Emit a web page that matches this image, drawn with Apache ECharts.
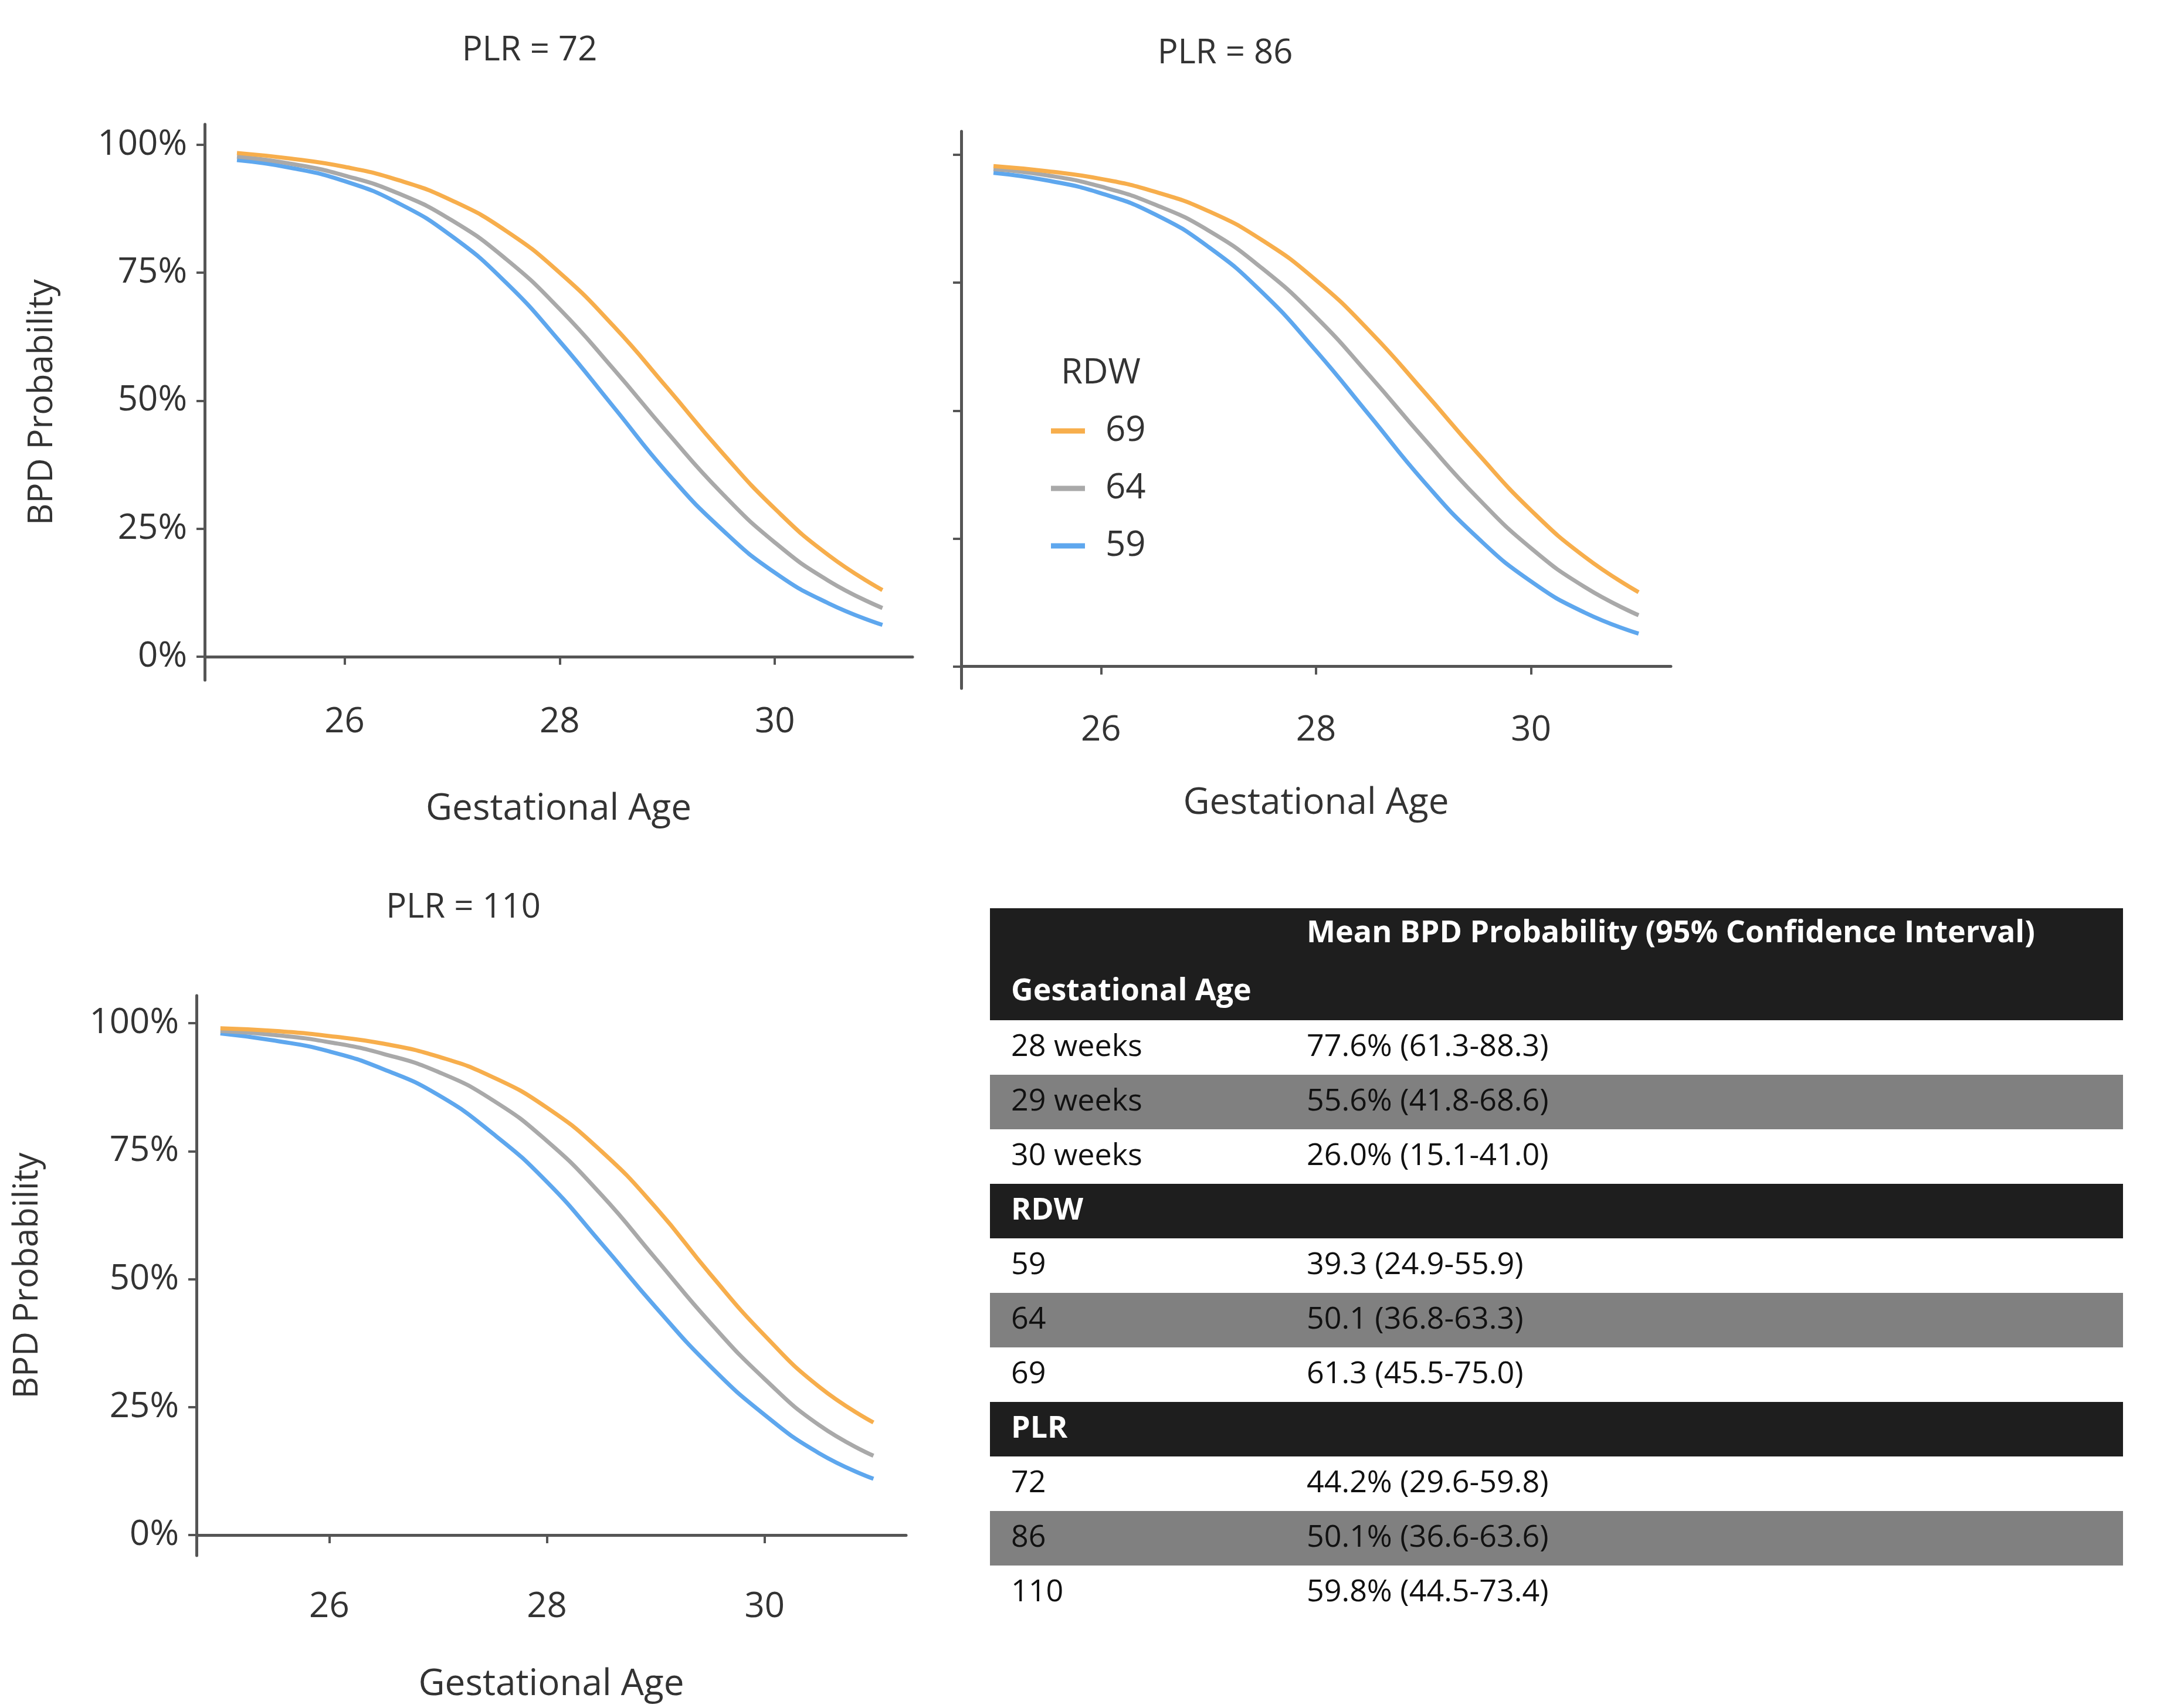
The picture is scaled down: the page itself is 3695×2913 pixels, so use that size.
<!DOCTYPE html>
<html>
<head>
<meta charset="utf-8">
<script src="https://cdn.jsdelivr.net/npm/echarts@6/dist/echarts.min.js"></script>
<style>html,body{margin:0;padding:0;background:#fff}#chart{width:3695px;height:2913px}</style>
</head>
<body>
<div id="chart"></div>
<script>
'use strict';

// gestational age (weeks)
var ages = [25, 25.5, 26, 26.5, 27, 27.5, 28, 28.5, 29, 29.5, 30, 30.5, 31];

// PLR = 72
var p72_rdw69 = [0.984, 0.973, 0.957, 0.931, 0.891, 0.832, 0.750, 0.646, 0.525, 0.401, 0.289, 0.198, 0.130];
var p72_rdw64 = [0.977, 0.963, 0.940, 0.905, 0.852, 0.777, 0.679, 0.562, 0.438, 0.321, 0.223, 0.148, 0.095];
var p72_rdw59 = [0.970, 0.955, 0.929, 0.886, 0.821, 0.731, 0.616, 0.488, 0.359, 0.250, 0.164, 0.104, 0.062];
// PLR = 86
var p86_rdw69 = [0.978, 0.968, 0.953, 0.928, 0.890, 0.833, 0.755, 0.655, 0.538, 0.417, 0.305, 0.214, 0.145];
var p86_rdw64 = [0.972, 0.960, 0.938, 0.903, 0.852, 0.778, 0.683, 0.568, 0.446, 0.330, 0.231, 0.155, 0.100];
var p86_rdw59 = [0.965, 0.950, 0.925, 0.884, 0.820, 0.731, 0.617, 0.490, 0.362, 0.252, 0.166, 0.105, 0.064];
// PLR = 110
var p110_rdw69 = [0.990, 0.985, 0.975, 0.960, 0.935, 0.895, 0.835, 0.750, 0.640, 0.510, 0.390, 0.290, 0.220];
var p110_rdw64 = [0.985, 0.977, 0.963, 0.940, 0.905, 0.850, 0.770, 0.665, 0.540, 0.415, 0.305, 0.215, 0.155];
var p110_rdw59 = [0.980, 0.966, 0.945, 0.910, 0.860, 0.785, 0.690, 0.570, 0.445, 0.330, 0.235, 0.160, 0.110];

var rdwNames = ['69', '64', '59'];
var rdwColors = ['#f7ae4c', '#a9a9a9', '#5ea7ee'];
var yTicks = [0, 0.25, 0.5, 0.75, 1];
var xTicks = [26, 28, 30];

// table
var tableSections = ['Gestational Age', 'RDW', 'PLR'];
var tableLabels = [['28 weeks', '29 weeks', '30 weeks'], ['59', '64', '69'], ['72', '86', '110']];
var tableValues = [
    ['77.6% (61.3-88.3)', '55.6% (41.8-68.6)', '26.0% (15.1-41.0)'],
    ['39.3 (24.9-55.9)', '50.1 (36.8-63.3)', '61.3 (45.5-75.0)'],
    ['44.2% (29.6-59.8)', '50.1% (36.6-63.6)', '59.8% (44.5-73.4)']
];

var K = 3695 / 1567;
function S(v) { return Math.round(v * K); }
var FONT = 'Open Sans';

var chart = echarts.init(document.getElementById('chart'));

// 面板位置 (显示坐标)
var panels = [
    {l: 148, t: 90, r: 660, b: 492, xmin: 24.7, xmax: 31.28, ymin: -0.046, ymax: 1.04, labels: true, data: [p72_rdw69, p72_rdw64, p72_rdw59]},
    {l: 695, t: 95, r: 1208, b: 498, xmin: 24.7, xmax: 31.3, ymin: -0.043, ymax: 1.046, labels: false, data: [p86_rdw69, p86_rdw64, p86_rdw59]},
    {l: 142, t: 720, r: 655, b: 1125, xmin: 24.78, xmax: 31.3, ymin: -0.04, ymax: 1.054, labels: true, data: [p110_rdw69, p110_rdw64, p110_rdw59]}
];
var titles = [['PLR = 72', 381, 22], ['PLR = 86', 884, 24], ['PLR = 110', 333, 642]];

var grid = [], xAxis = [], yAxis = [], series = [];
var axisLine = {lineStyle: {color: '#555', width: 5}};
panels.forEach(function (p, i) {
    grid.push({left: S(p.l), top: S(p.t), width: S(p.r - p.l), height: S(p.b - p.t)});
    xAxis.push({
        type: 'value', gridIndex: i, min: p.xmin, max: p.xmax,
        name: 'Gestational Age', nameLocation: 'middle', nameGap: S(i == 1 ? 70 : 80),
        nameTextStyle: {fontSize: 62, color: '#333', fontFamily: FONT},
        axisLine: axisLine, splitLine: {show: false},
        axisTick: {length: 14, lineStyle: {color: '#555', width: 4}, customValues: xTicks},
        axisLabel: {fontSize: 60, color: '#333', fontFamily: FONT, margin: i == 2 ? 58 : 42, customValues: xTicks}
    });
    yAxis.push({
        type: 'value', gridIndex: i, min: p.ymin, max: p.ymax,
        name: p.labels ? 'BPD Probability' : '', nameLocation: 'middle', nameGap: S(i == 0 ? 105 : 110),
        nameTextStyle: {fontSize: 58, color: '#333', fontFamily: FONT},
        axisLine: axisLine, splitLine: {show: false},
        axisTick: {length: 14, lineStyle: {color: '#555', width: 4}, customValues: yTicks},
        axisLabel: {show: p.labels, fontSize: 60, color: '#333', fontFamily: FONT, margin: 30, customValues: yTicks,
            formatter: function (v) { return Math.round(v * 100) + '%'; }}
    });
    p.data.forEach(function (arr, j) {
        series.push({
            type: 'line', name: rdwNames[j], xAxisIndex: i, yAxisIndex: i,
            data: ages.map(function (a, k) { return [a, arr[k]]; }),
            smooth: 0.5, showSymbol: false, color: rdwColors[j],
            lineStyle: {width: 7, color: rdwColors[j]}, z: 3 - j
        });
    });
});

// 表格
var graphic = [];
var tl = S(716), tr = S(1535), rowH = S(39.5);
function rect(y, h, c) { graphic.push({type: 'rect', shape: {x: tl, y: y, width: tr - tl, height: h}, style: {fill: c}}); }
function txt(x, y, s, c, bold) {
    graphic.push({type: 'text', x: x, y: y, style: {text: s, fill: c, fontSize: 52, fontFamily: FONT,
        fontWeight: bold ? 'bold' : 'normal', verticalAlign: 'middle'}});
}
var c1 = S(731), c2 = S(945);
var y = S(657);
rect(y, S(81), '#1e1e1e');
txt(c2, S(675), 'Mean BPD Probability (95% Confidence Interval)', '#fff', true);
txt(c1, S(717), tableSections[0], '#fff', true);
y = S(738);
tableSections.forEach(function (sec, si) {
    if (si > 0) {
        rect(y, rowH, '#1e1e1e');
        txt(c1, y + rowH / 2, sec, '#fff', true);
        y += rowH;
    }
    tableLabels[si].forEach(function (lab, ri) {
        if (ri == 1) rect(y, rowH, '#808080');
        txt(c1, y + rowH / 2, lab, '#111', false);
        txt(c2, y + rowH / 2, tableValues[si][ri], '#111', false);
        y += rowH;
    });
});
graphic.push({type: 'text', x: S(767), y: S(270), style: {text: 'RDW', fill: '#333', fontSize: 60, fontFamily: FONT, verticalAlign: 'middle'}});

chart.setOption({
    backgroundColor: '#fff',
    animation: false,
    title: titles.map(function (t) {
        return {text: t[0], left: S(t[1]), top: S(t[2]), textAlign: 'center',
            textStyle: {fontSize: 58, fontWeight: 'normal', color: '#333', fontFamily: FONT}};
    }),
    legend: {
        data: rdwNames, orient: 'vertical', left: S(758), top: S(297), itemGap: 38,
        icon: 'rect', itemWidth: 58, itemHeight: 9,
        textStyle: {fontSize: 60, color: '#333', fontFamily: FONT, padding: [0, 0, 0, 30]}
    },
    grid: grid,
    xAxis: xAxis,
    yAxis: yAxis,
    series: series,
    graphic: graphic
});
</script>
</body>
</html>
